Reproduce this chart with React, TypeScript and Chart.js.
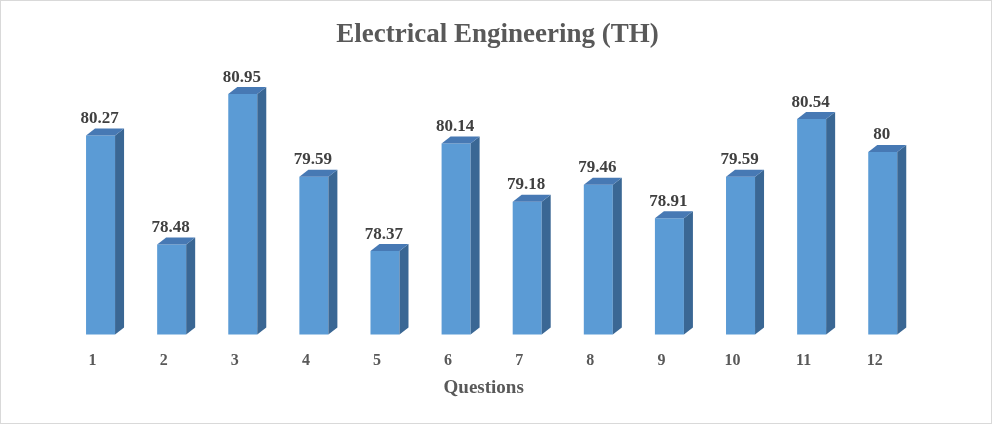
import React, { useEffect, useRef } from "react";
import { Chart, registerables } from "chart.js";

Chart.register(...registerables);

const chartTitle = "Electrical Engineering (TH)";
const axisTitle = "Questions";
const categories = ["1", "2", "3", "4", "5", "6", "7", "8", "9", "10", "11", "12"];
const scores = [80.27, 78.48, 80.95, 79.59, 78.37, 80.14, 79.18, 79.46, 78.91, 79.59, 80.54, 80];
const yMin = 77;
const yMax = 81.5;

const SERIF = '"Times New Roman", "Liberation Serif", serif';

const bar3dPlugin = {
  id: "bar3d",
  afterDatasetsDraw(chart: any) {
    const ctx = chart.ctx;
    const meta = chart.getDatasetMeta(0);
    const dx = 9;
    const dy = 7;
    const bottom = chart.chartArea.bottom;
    ctx.save();
    meta.data.forEach((bar: any, i: number) => {
      const p = bar.getProps(["x", "y", "base", "width"], true);
      const x = p.x;
      const y = p.y;
      const width = p.width;
      const base = Math.min(p.base, bottom);
      const l = x - width / 2;
      const r = x + width / 2;
      // side face
      ctx.fillStyle = "#3A6794";
      ctx.beginPath();
      ctx.moveTo(r, y);
      ctx.lineTo(r + dx, y - dy);
      ctx.lineTo(r + dx, base - dy);
      ctx.lineTo(r, base);
      ctx.closePath();
      ctx.fill();
      // top face
      ctx.fillStyle = "#4779B4";
      ctx.beginPath();
      ctx.moveTo(l, y);
      ctx.lineTo(l + dx, y - dy);
      ctx.lineTo(r + dx, y - dy);
      ctx.lineTo(r, y);
      ctx.closePath();
      ctx.fill();
      // data label
      ctx.fillStyle = "#404040";
      ctx.font = `bold 17px ${SERIF}`;
      ctx.textAlign = "center";
      ctx.textBaseline = "alphabetic";
      ctx.fillText(String(scores[i]), x - 1, y - 12.5);
    });
    ctx.restore();
  },
  afterDraw(chart: any) {
    const ctx = chart.ctx;
    ctx.save();
    ctx.fillStyle = "#595959";
    ctx.textAlign = "center";
    ctx.textBaseline = "alphabetic";
    ctx.font = `bold 27px ${SERIF}`;
    ctx.fillText(chartTitle, 497.5, 42.3);
    ctx.font = `bold 19px ${SERIF}`;
    const xs = chart.scales.x;
    ctx.fillText(axisTitle, (xs.left + xs.right) / 2 - 8, 393);
    ctx.strokeStyle = "#d9d9d9";
    ctx.lineWidth = 1;
    ctx.strokeRect(0.5, 0.5, chart.width - 1, chart.height - 1);
    ctx.restore();
  },
};

export default function App() {
  const ref = useRef<HTMLCanvasElement>(null);
  useEffect(() => {
    const chart = new Chart(ref.current as HTMLCanvasElement, {
      type: "bar",
      data: {
        labels: categories,
        datasets: [
          {
            data: scores,
            backgroundColor: "#5B9BD5",
            borderWidth: 0,
            barPercentage: 0.408,
            categoryPercentage: 1,
          },
        ],
      },
      options: {
        responsive: false,
        animation: false,
        devicePixelRatio: 1,
        layout: { padding: { left: 65, right: 73.7, top: 60.6, bottom: 37.3 } },
        plugins: {
          legend: { display: false },
          tooltip: { enabled: false },
          title: { display: false },
        },
        scales: {
          x: {
            offset: true,
            grid: { display: false, drawTicks: false },
            border: { display: false },
            ticks: {
              color: "#595959",
              font: { family: SERIF, size: 16, weight: "bold" },
              padding: 16.5,
              labelOffset: -8,
              maxRotation: 0,
              autoSkip: false,
            },
          },
          y: { display: false, min: yMin, max: yMax },
        },
      },
      plugins: [bar3dPlugin],
    } as any);
    return () => chart.destroy();
  }, []);
  return (
    <div style={{ position: "fixed", left: 0, top: 0, width: 992, height: 424, background: "#fff" }}>
      <canvas ref={ref} width={992} height={424} style={{ display: "block" }} />
    </div>
  );
}
